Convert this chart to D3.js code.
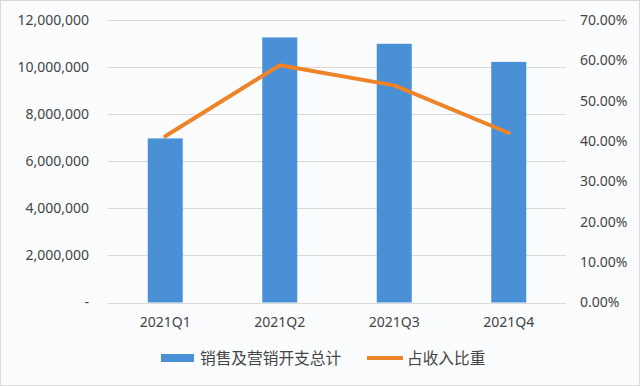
<!DOCTYPE html>
<html>
<head>
<meta charset="utf-8">
<script src="https://cdn.jsdelivr.net/npm/d3@7"></script>
<style>
  body { margin: 0; background: #fff; }
  svg text { font-family: "Noto Sans", "Noto Sans CJK SC", sans-serif; }
</style>
</head>
<body>
<div id="chart"></div>
<script>
// data
var quarters = ["2021Q1", "2021Q2", "2021Q3", "2021Q4"];
var spending = [6970000, 11260000, 10990000, 10220000];
var ratio = [0.412, 0.588, 0.538, 0.420];
var leftTicks = [0, 2000000, 4000000, 6000000, 8000000, 10000000, 12000000];
var rightTicks = [0, 0.1, 0.2, 0.3, 0.4, 0.5, 0.6, 0.7];
var legendNames = ["销售及营销开支总计", "占收入比重"];

var svgWidth = 640, svgHeight = 386;
var margin = { top: 20, left: 108, right: 74, bottom: 84 };
var width = svgWidth - margin.left - margin.right;
var height = svgHeight - margin.top - margin.bottom + 0.5;

var svg = d3.select("#chart").append("svg")
    .attr("width", svgWidth)
    .attr("height", svgHeight);

// chart area background + frame
svg.append("rect")
    .attr("x", 0.5).attr("y", 0.5)
    .attr("width", svgWidth - 1).attr("height", svgHeight - 1)
    .attr("fill", "#fbfcfe")
    .attr("stroke", "#d9d9d9");

var g = svg.append("g").attr("transform", `translate(${margin.left}, ${margin.top})`);

var x = d3.scaleBand().domain(quarters).range([0, width]);
var yL = d3.scaleLinear().domain([0, 12000000]).range([height, 0]);
var yR = d3.scaleLinear().domain([0, 0.7]).range([height, 0]);

// gridlines
g.selectAll(".grid")
    .data(leftTicks)
    .enter()
    .append("line")
    .attr("x1", 0).attr("x2", width)
    .attr("y1", d => Math.round(yL(d)) + 0.5)
    .attr("y2", d => Math.round(yL(d)) + 0.5)
    .attr("stroke", "#d9d9d9")
    .attr("stroke-width", 1);

// left axis
var fmt = d3.format(",");
var leftAxis = d3.axisLeft(yL).tickValues(leftTicks).tickSize(0).tickPadding(19)
    .tickFormat(d => d === 0 ? "-" : fmt(d));
var la = g.append("g").call(leftAxis);
la.select(".domain").remove();
la.selectAll("text").attr("fill", "#444").style("font-size", "14px");

// right axis
var rightAxis = d3.axisRight(yR).tickValues(rightTicks).tickSize(0).tickPadding(14)
    .tickFormat(d3.format(".2%"));
var ra = g.append("g").attr("transform", `translate(${width}, 0)`).call(rightAxis);
ra.select(".domain").remove();
ra.selectAll("text").attr("fill", "#444").style("font-size", "14px");

// bottom labels
var bottomAxis = d3.axisBottom(x).tickSize(0).tickPadding(15);
var ba = g.append("g").attr("transform", `translate(0, ${height})`).call(bottomAxis);
ba.select(".domain").remove();
ba.selectAll("text").attr("fill", "#444").style("font-size", "14px");

// bars
var barW = 35;
g.selectAll(".bar")
    .data(spending)
    .enter()
    .append("rect")
    .attr("x", (d, i) => x(quarters[i]) + x.bandwidth() / 2 - barW / 2)
    .attr("y", d => yL(d))
    .attr("width", barW)
    .attr("height", d => height - yL(d))
    .attr("fill", "#4a90d6");

// ratio line
var line = d3.line()
    .x((d, i) => x(quarters[i]) + x.bandwidth() / 2)
    .y(d => yR(d));
g.append("path")
    .datum(ratio)
    .attr("d", line)
    .attr("fill", "none")
    .attr("stroke", "#ee8328")
    .attr("stroke-width", 4)
    .attr("stroke-linejoin", "round")
    .attr("stroke-linecap", "round");

// legend
var leg = svg.append("g").attr("transform", "translate(0, 358)");
leg.append("rect")
    .attr("x", 161).attr("y", -4).attr("width", 33).attr("height", 8)
    .attr("fill", "#4a90d6");
leg.append("text")
    .attr("x", 200).attr("y", 0).attr("dy", "0.35em")
    .attr("fill", "#444").style("font-size", "15.7px")
    .style("font-family", "'Noto Sans CJK SC'")
    .text(legendNames[0]);
leg.append("line")
    .attr("x1", 367).attr("x2", 403).attr("y1", 0).attr("y2", 0)
    .attr("stroke", "#ee8328").attr("stroke-width", 4);
leg.append("text")
    .attr("x", 407).attr("y", 0).attr("dy", "0.35em")
    .attr("fill", "#444").style("font-size", "15.7px")
    .style("font-family", "'Noto Sans CJK SC'")
    .text(legendNames[1]);
</script>
</body>
</html>
